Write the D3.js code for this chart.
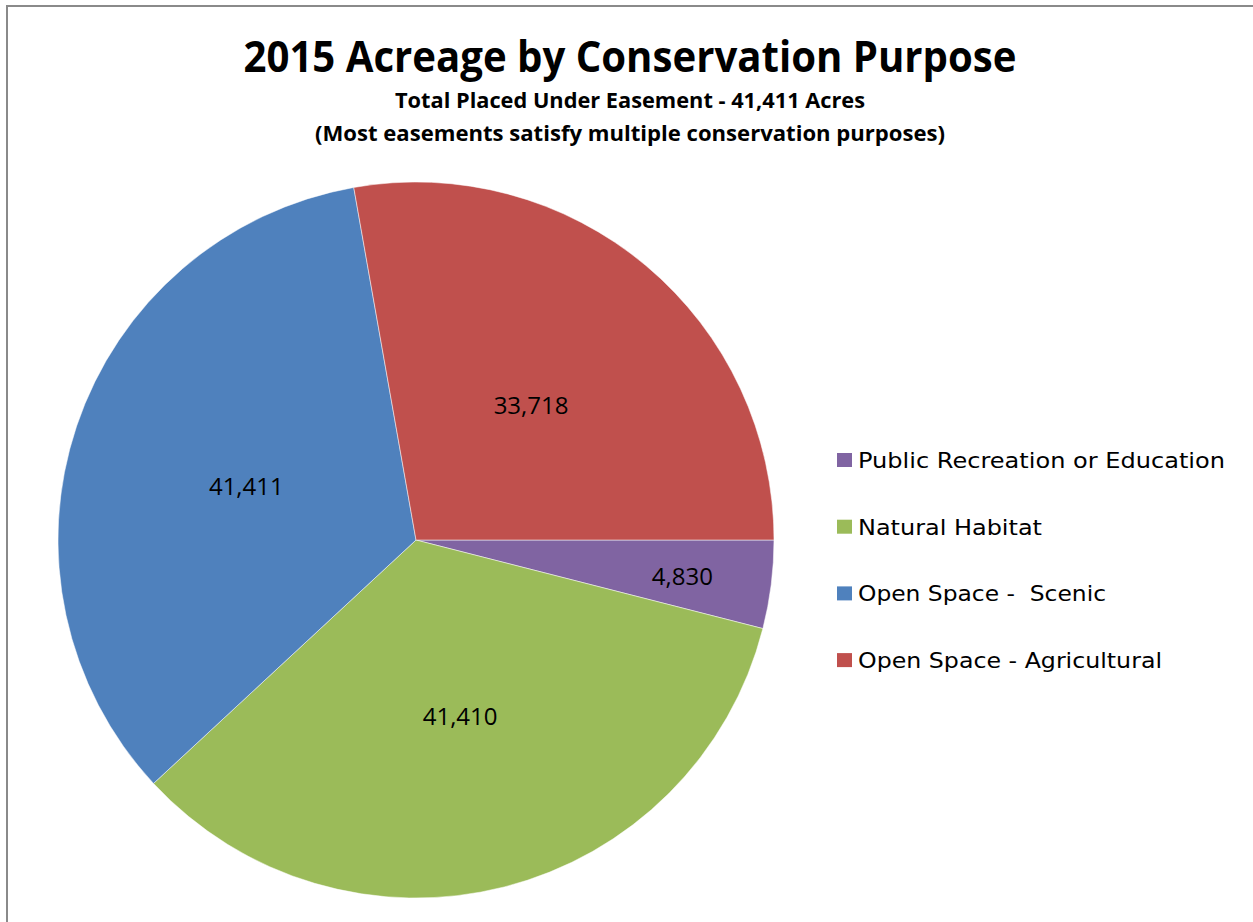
<!DOCTYPE html>
<html>
<head>
<meta charset="utf-8">
<script src="https://cdn.jsdelivr.net/npm/d3@7"></script>
<style>
  body { margin: 0; background: #fff; }
  svg { display: block; }
</style>
</head>
<body>
<div id="chart"></div>
<script>
// data
const categories = ["Public Recreation or Education", "Natural Habitat", "Open Space -  Scenic", "Open Space - Agricultural"];
const acres = [4830, 41410, 41411, 33718];
const colors = ["#8064A2", "#9BBB59", "#4F81BD", "#C0504D"];
const titleText = "2015 Acreage by Conservation Purpose";
const subtitleLines = ["Total Placed Under Easement - 41,411 Acres", "(Most easements satisfy multiple conservation purposes)"];

const width = 1253, height = 922;
const cx = 416, cy = 540, radius = 358;

const svg = d3.select("#chart").append("svg")
    .attr("width", width)
    .attr("height", height);

// chart area border (right and bottom run off the picture)
svg.append("rect")
    .attr("x", 7).attr("y", 6)
    .attr("width", width + 20).attr("height", height + 20)
    .attr("fill", "none")
    .attr("stroke", "#8a8a8a")
    .attr("stroke-width", 2);

// titles
svg.append("text")
    .attr("x", 630).attr("y", 72)
    .attr("text-anchor", "middle")
    .attr("font-family", "'Open Sans', sans-serif")
    .attr("font-weight", "bold")
    .attr("font-size", 43)
    .attr("textLength", 773)
    .attr("lengthAdjust", "spacingAndGlyphs")
    .text(titleText);

const subWidths = [470, 630];
svg.selectAll(".subtitle")
    .data(subtitleLines)
  .join("text")
    .attr("class", "subtitle")
    .attr("x", 630)
    .attr("y", (d, i) => 108 + i * 33)
    .attr("text-anchor", "middle")
    .attr("font-family", "'Open Sans', sans-serif")
    .attr("font-weight", "bold")
    .attr("font-size", 21)
    .attr("textLength", (d, i) => subWidths[i])
    .attr("lengthAdjust", "spacingAndGlyphs")
    .text(d => d);

// pie
const pie = d3.pie()
    .sort(null)
    .value(d => d)
    .startAngle(Math.PI / 2)
    .endAngle(Math.PI / 2 + 2 * Math.PI);

const arcs = pie(acres);
const arc = d3.arc().innerRadius(0).outerRadius(radius);

const g = svg.append("g")
    .attr("transform", `translate(${cx},${cy})`);

g.selectAll("path")
    .data(arcs)
  .join("path")
    .attr("d", arc)
    .attr("fill", (d, i) => colors[i])
    .attr("stroke", "#fff")
    .attr("stroke-width", 0.5);

// data labels: small slices pushed outward
const labelArc = d => {
    const span = d.endAngle - d.startAngle;
    const r = span < 0.5 ? radius * 0.75 : radius * 0.5;
    return d3.arc().innerRadius(r).outerRadius(r).centroid(d);
};
const fmt = d3.format(",");

g.selectAll(".label")
    .data(arcs)
  .join("text")
    .attr("class", "label")
    .attr("transform", d => `translate(${labelArc(d)})`)
    .attr("dy", "0.48em")
    .attr("text-anchor", "middle")
    .attr("font-family", "'Open Sans', sans-serif")
    .attr("font-size", 24)
    .attr("fill", "#000")
    .text(d => fmt(d.data));

// legend
const legendWidths = [367, 184, 248, 304];
const legend = svg.append("g")
    .attr("transform", "translate(837,460)");

const item = legend.selectAll(".item")
    .data(categories)
  .join("g")
    .attr("class", "item")
    .attr("transform", (d, i) => `translate(0,${i * 66.7})`);

item.append("rect")
    .attr("x", 0).attr("y", -7)
    .attr("width", 15).attr("height", 14)
    .attr("fill", (d, i) => colors[i]);

item.append("text")
    .attr("x", 21).attr("y", 8)
    .attr("font-family", "'DejaVu Sans', sans-serif")
    .attr("font-size", 22)
    .attr("textLength", (d, i) => legendWidths[i])
    .attr("lengthAdjust", "spacingAndGlyphs")
    .attr("xml:space", "preserve")
    .style("white-space", "pre")
    .text(d => d);
</script>
</body>
</html>
